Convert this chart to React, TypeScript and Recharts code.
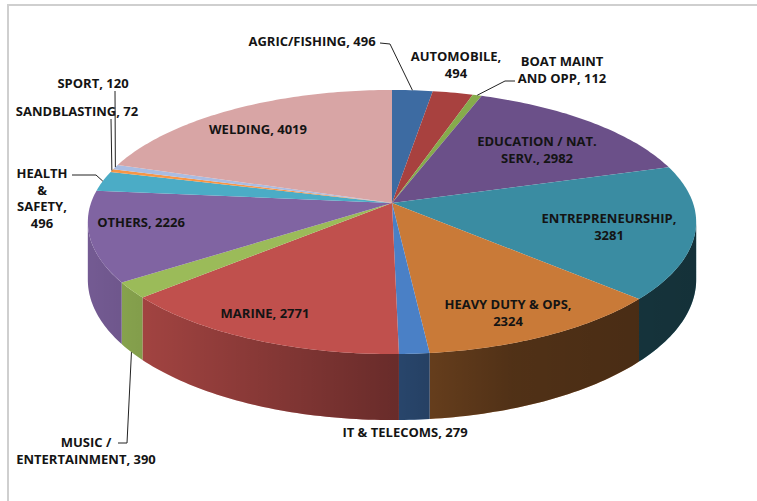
import { PieChart, Pie, Cell } from 'recharts';

const categories = [
  'AGRIC/FISHING',
  'AUTOMOBILE',
  'BOAT MAINT AND OPP',
  'EDUCATION / NAT. SERV.',
  'ENTREPRENEURSHIP',
  'HEAVY DUTY & OPS',
  'IT & TELECOMS',
  'MARINE',
  'MUSIC / ENTERTAINMENT',
  'OTHERS',
  'HEALTH & SAFETY',
  'SANDBLASTING',
  'SPORT',
  'WELDING',
];
const students = [496, 494, 112, 2982, 3281, 2324, 279, 2771, 390, 2226, 496, 72, 120, 4019];
const colors = [
  '#3d6ba2', '#a8413f', '#86ab4c', '#6b5089', '#3a8ca2', '#c97a38', '#4a80c6',
  '#c0504d', '#9bbb59', '#8064a2', '#4bacc6', '#f79646', '#a9bce2', '#d8a5a5',
];

// label placement: text centre, words per line, elbow points of the leader line
type LabelLayout = { x: number; y: number; lines?: number[]; leader?: number[][]; toBottom?: boolean };
const labelLayout: LabelLayout[] = [
  { x: 312, y: 41, leader: [[380, 43], [390, 44]] },
  { x: 456, y: 56, lines: [1, 1] },
  { x: 562, y: 61, lines: [2, 3], leader: [[515, 81], [505, 81]] },
  { x: 537, y: 141, lines: [3, 2] },
  { x: 609, y: 218, lines: [1, 1] },
  { x: 508, y: 304, lines: [4, 1] },
  { x: 405, y: 432 },
  { x: 265, y: 313 },
  { x: 86, y: 442, lines: [2, 2], leader: [[118, 443], [127, 443]], toBottom: true },
  { x: 141, y: 222 },
  { x: 42, y: 173, lines: [1, 1, 1, 1], leader: [[72, 175], [96, 175]] },
  { x: 77, y: 111, leader: [[111, 119]] },
  { x: 93, y: 83, leader: [[115, 91]] },
  { x: 258, y: 129 },
];

const data = categories.map((name, i) => ({ name, value: students[i] }));

// fake 3D: perspective tilt of the disc
const ASPECT = 0.4296;
const PERSP = 0.144;
const DEPTH = 0.1877;
const EDGE = (Math.asin(PERSP) * 180) / Math.PI;

function project(cx: number, cy: number, R: number, deg: number) {
  const t = (deg * Math.PI) / 180;
  const u = Math.cos(t);
  const v = -Math.sin(t);
  const w = 1 / (1 - PERSP * v);
  return { x: cx + R * u * w, y: cy + R * ASPECT * v * w, d: R * DEPTH * w };
}

function arcPoints(cx: number, cy: number, R: number, a: number, b: number) {
  const n = Math.max(2, Math.ceil(Math.abs(b - a)));
  const pts = [];
  for (let i = 0; i <= n; i++) pts.push(project(cx, cy, R, a + ((b - a) * i) / n));
  return pts;
}

function Slice3D(props: any) {
  const { cx, cy, outerRadius, startAngle, endAngle, fill, index } = props;
  const R = outerRadius;
  const top = arcPoints(cx, cy, R, startAngle, endAngle);
  const topPath = `M${cx},${cy}` + top.map(p => `L${p.x},${p.y}`).join('') + 'Z';

  const a0 = Math.min(startAngle, endAngle);
  const a1 = Math.max(startAngle, endAngle);
  const lo = Math.max(a0, -180 + EDGE);
  const hi = Math.min(a1, -EDGE);
  let wallPath = '';
  if (hi > lo) {
    const rim = arcPoints(cx, cy, R, lo, hi);
    wallPath =
      rim.map((p, i) => `${i ? 'L' : 'M'}${p.x},${p.y}`).join('') +
      rim
        .slice()
        .reverse()
        .map(p => `L${p.x},${p.y + p.d}`)
        .join('') +
      'Z';
  }
  const gid = `wallShade${index}`;
  return (
    <g>
      <defs>
        <linearGradient id={gid} gradientUnits="userSpaceOnUse" x1={cx - R} y1={0} x2={cx + R} y2={0}>
          <stop offset="0%" stopColor="#000" stopOpacity={0.1} />
          <stop offset="50%" stopColor="#000" stopOpacity={0.45} />
          <stop offset="70%" stopColor="#000" stopOpacity={0.6} />
          <stop offset="100%" stopColor="#000" stopOpacity={0.65} />
        </linearGradient>
      </defs>
      {wallPath && <path d={wallPath} fill={fill} stroke="none" />}
      {wallPath && <path d={wallPath} fill={`url(#${gid})`} stroke="none" />}
      <path d={topPath} fill={fill} stroke="none" />
    </g>
  );
}

function renderLabel(props: any) {
  const { cx, cy, outerRadius, midAngle, index, name, value } = props;
  const lay = labelLayout[index];
  const words = `${name}, ${value}`.split(' ');
  const counts = lay.lines ?? [words.length];
  const lines: string[] = [];
  let k = 0;
  counts.forEach(c => {
    lines.push(words.slice(k, k + c).join(' '));
    k += c;
  });
  let leader = null;
  if (lay.leader) {
    const p = project(cx, cy, outerRadius, midAngle);
    const end = [p.x, lay.toBottom ? p.y + p.d : p.y];
    const pts = [...lay.leader, end].map(q => q.join(',')).join(' ');
    leader = <polyline points={pts} fill="none" stroke="#222" strokeWidth={1} />;
  }
  return (
    <g key={`lbl${index}`}>
      {leader}
      <text
        x={lay.x}
        y={lay.y}
        textAnchor="middle"
        dominantBaseline="central"
        fontFamily="'Open Sans', Lato, sans-serif"
        fontWeight={700}
        fontSize={13}
        fill="#141414"
      >
        {lines.map((l, i) => (
          <tspan key={i} x={lay.x} dy={i === 0 ? 0 : 16.7}>
            {l}
          </tspan>
        ))}
      </text>
    </g>
  );
}

export default function App() {
  return (
    <div style={{ position: 'absolute', left: 0, top: 0, width: 757, height: 501, overflow: 'hidden', background: '#fff' }}>
      <div
        style={{
          position: 'absolute',
          left: 7,
          top: 4,
          width: 800,
          height: 600,
          border: '2px solid #cfcfcf',
        }}
      />
      <div style={{ position: 'absolute', left: 0, top: 0 }}>
        <PieChart width={757} height={501}>
          <Pie
            data={data}
            dataKey="value"
            nameKey="name"
            cx={387}
            cy={198}
            outerRadius={301}
            startAngle={90}
            endAngle={-270}
            stroke="none"
            shape={Slice3D}
            label={renderLabel}
            labelLine={false}
            isAnimationActive={false}
          >
            {data.map((d, i) => (
              <Cell key={d.name} fill={colors[i]} />
            ))}
          </Pie>
        </PieChart>
      </div>
    </div>
  );
}
